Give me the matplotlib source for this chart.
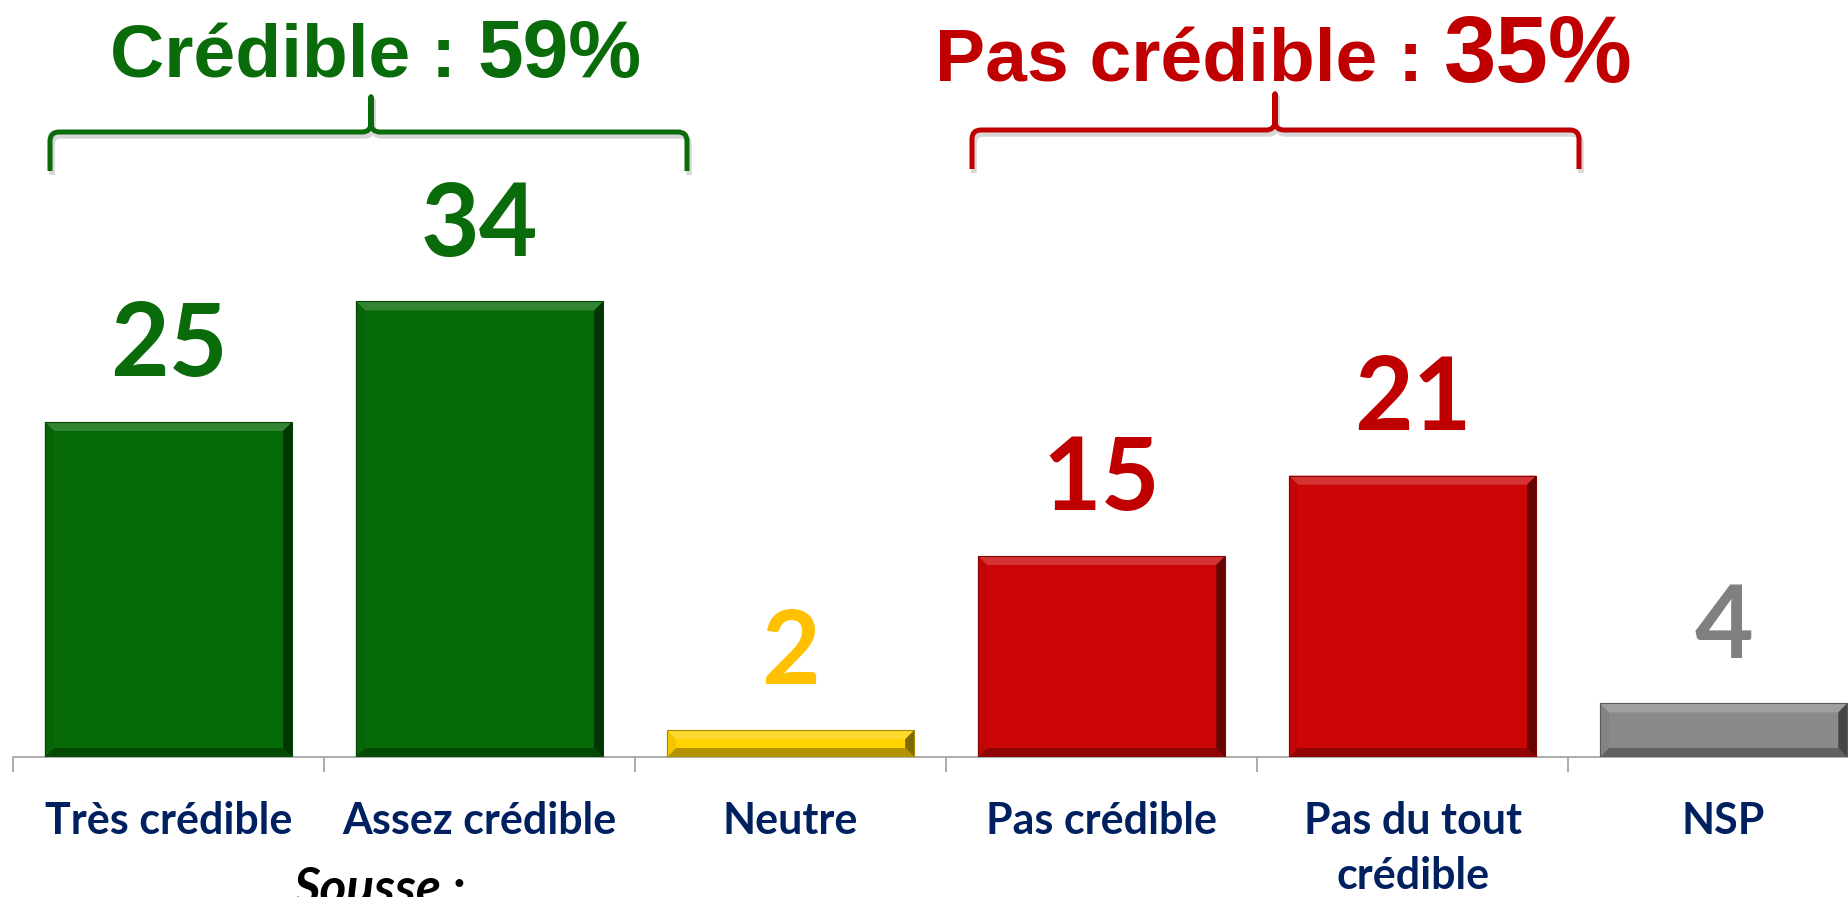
import matplotlib
matplotlib.use('Agg')
import matplotlib.pyplot as plt
from matplotlib.patches import Polygon, PathPatch
from matplotlib.path import Path
import matplotlib.colors as mcolors
import numpy as np

categories = ['Très crédible', 'Assez crédible', 'Neutre', 'Pas crédible',
              'Pas du tout\ncrédible', 'NSP']
values = [25, 34, 2, 15, 21, 4]
bar_colors = ['#066A06', '#066A06', '#FFD200', '#CC0606', '#CC0606', '#8A8A8A']
label_colors = ['#0A6B0A', '#0A6B0A', '#FFC000', '#C00000', '#C00000', '#808080']
group_prefix = ['Crédible : ', 'Pas crédible : ']
group_totals = ['59%', '35%']
group_colors = ['#0A6B0A', '#C00000']

plt.rcParams['font.family'] = ['Lato', 'DejaVu Sans']

W, H = 1848, 897
fig = plt.figure(figsize=(W / 100, H / 100), dpi=100)
fig.patch.set_facecolor('white')
ax = fig.add_axes([13 / W, 140 / H, 1 - 13 / W, 1 - 140 / H])
x = np.arange(len(categories))
bars = ax.bar(x, values, width=0.795, color=bar_colors, zorder=2)
ax.set_xlim(-0.5, 5.4)
ax.set_ylim(0, 757 / 13.4)

# axis styling
for s in ['top', 'right', 'left']:
    ax.spines[s].set_visible(False)
ax.spines['bottom'].set_color('#A6A6A6')
ax.spines['bottom'].set_linewidth(1.3)
ax.set_yticks([])
ax.set_xticks(x)
ax.set_xticklabels(categories, fontsize=31, fontweight='bold', color='#002060',
                   linespacing=1.45)
ax.tick_params(axis='x', which='major', length=0, pad=32)
ax.set_xticks(x - 0.5, minor=True)
ax.tick_params(axis='x', which='minor', length=11, width=1.3, color='#A6A6A6')

# bevel effect
xpp = (5.9) / (W - 13)
ypp = (757 / 13.4) / 757


def shade(c, f):
    r, g, b = mcolors.to_rgb(c)
    if f >= 0:
        return (r + (1 - r) * f, g + (1 - g) * f, b + (1 - b) * f)
    f = -f
    return (r * (1 - f), g * (1 - f), b * (1 - f))


for rect, c in zip(bars, bar_colors):
    x0, y0 = rect.get_x(), rect.get_y()
    x1, y1 = x0 + rect.get_width(), y0 + rect.get_height()
    b = 9
    bx = b * xpp
    by = min(b * ypp, (y1 - y0) / 2.2)
    polys = [
        ([(x0, y1), (x1, y1), (x1 - bx, y1 - by), (x0 + bx, y1 - by)], shade(c, 0.18)),
        ([(x0, y0), (x1, y0), (x1 - bx, y0 + by), (x0 + bx, y0 + by)], shade(c, -0.3)),
        ([(x1, y0), (x1, y1), (x1 - bx, y1 - by), (x1 - bx, y0 + by)], shade(c, -0.5)),
        ([(x0, y0), (x0, y1), (x0 + bx, y1 - by), (x0 + bx, y0 + by)], shade(c, -0.05)),
    ]
    for pts, col in polys:
        ax.add_patch(Polygon(pts, closed=True, facecolor=col, edgecolor='none', zorder=3))
    ax.add_patch(plt.Rectangle((x0, y0), x1 - x0, y1 - y0, fill=False,
                               edgecolor=shade(c, -0.35), lw=0.8, zorder=4))

# value labels
for xi, v, col in zip(x, values, label_colors):
    ax.annotate(str(v), (xi, v), xytext=(0, 33), textcoords='offset points',
                ha='center', va='baseline', fontsize=73, fontweight='bold',
                color=col, zorder=5, annotation_clip=False)


# braces (figure pixel coords, y from top)
def brace(x0, x1, xc, yh, yend, ypeak, color):
    r = 9
    P = [(x0, yend), (x0, yh + r), (x0, yh), (x0 + r, yh), (xc - r, yh),
         (xc, yh), (xc, yh - r), (xc, ypeak), (xc, yh - r), (xc, yh),
         (xc + r, yh), (x1 - r, yh), (x1, yh), (x1, yh + r), (x1, yend)]
    codes = [Path.MOVETO, Path.LINETO, Path.CURVE3, Path.CURVE3, Path.LINETO,
             Path.CURVE3, Path.CURVE3, Path.LINETO, Path.LINETO, Path.CURVE3,
             Path.CURVE3, Path.LINETO, Path.CURVE3, Path.CURVE3, Path.LINETO]
    for dx, dy, col, lw, a in [(2, 4, '#B0B0B0', 4.0, 0.5), (0, 0, color, 3.6, 1.0)]:
        verts = [((px + dx) / W, 1 - (py + dy) / H) for px, py in P]
        fig.add_artist(PathPatch(Path(verts, codes), transform=fig.transFigure,
                                 fill=False, edgecolor=col, lw=lw, alpha=a,
                                 capstyle='butt', joinstyle='round'))


brace(50, 687, 371, 132, 171, 97, group_colors[0])
brace(972, 1579, 1275, 130, 169, 94, group_colors[1])

# group titles
renderer = fig.canvas.get_renderer()
title_specs = [(110, 77, 54, 59), (935, 82, 54, 68)]
for (tx, ty, s1, s2), pre, tot, col in zip(title_specs, group_prefix, group_totals, group_colors):
    t1 = fig.text(tx / W, 1 - ty / H, pre, ha='left', va='baseline', fontsize=s1,
                  fontweight='bold', color=col, family=['Liberation Sans', 'DejaVu Sans'])
    bb = t1.get_window_extent(renderer)
    fig.text(bb.x1 / W, 1 - ty / H, tot, ha='left', va='baseline', fontsize=s2,
             fontweight='bold', color=col, family=['Liberation Sans', 'DejaVu Sans'])

# cut-off subtitle at the bottom
fig.text(379 / W, 1 - 905 / H, 'Sousse :', ha='center', va='baseline', fontsize=37,
         fontweight='bold', fontstyle='italic', color='black')

fig.savefig('out.png', dpi=100, facecolor='white')
